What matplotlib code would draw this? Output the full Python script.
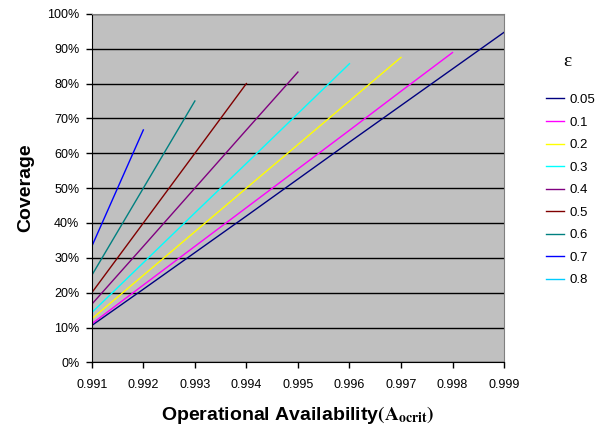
import numpy as np
import matplotlib
matplotlib.use("Agg")
import matplotlib.pyplot as plt
from matplotlib.ticker import FuncFormatter

plt.rcParams['font.family'] = ['Liberation Sans', 'DejaVu Sans']
plt.rcParams['mathtext.fontset'] = 'stix'

# availability grid (x axis)
avail = [0.991, 0.992, 0.993, 0.994, 0.995, 0.996, 0.997, 0.998, 0.999]

# coverage (%) per epsilon, each series starts at 0.991
eps_labels = ["0.05", "0.1", "0.2", "0.3", "0.4", "0.5", "0.6", "0.7", "0.8"]
cov_005 = [10.6, 21.0, 31.5, 42.0, 52.6, 63.2, 73.7, 84.2, 94.7]
cov_01 = [11.1, 22.2, 33.3, 44.4, 55.5, 66.6, 77.8, 88.9]
cov_02 = [12.5, 25.0, 37.5, 50.0, 62.5, 75.0, 87.5]
cov_03 = [14.3, 28.6, 42.9, 57.1, 71.4, 85.7]
cov_04 = [16.7, 33.3, 50.0, 66.7, 83.3]
cov_05 = [20.0, 40.0, 60.0, 80.0]
cov_06 = [25.0, 50.0, 75.0]
cov_07 = [33.3, 66.7]
cov_08 = [50.0]

series = [cov_005, cov_01, cov_02, cov_03, cov_04, cov_05, cov_06, cov_07, cov_08]
colors = ["#000080", "#FF00FF", "#FFFF00", "#00FFFF", "#800080",
          "#800000", "#008080", "#0000FF", "#00CCFF"]

fig = plt.figure(figsize=(6.08, 4.33), dpi=100)
ax = fig.add_axes([0.151, 0.163, 0.678, 0.805])
ax.set_facecolor("#C0C0C0")

for vals, lab, col in zip(series, eps_labels, colors):
    ax.plot(avail[:len(vals)], vals, color=col, lw=1, label=lab)

ax.set_xlim(0.991, 0.999)
ax.set_ylim(0, 100)
ax.set_xticks(avail)
ax.set_xticklabels(["%.3f" % a for a in avail])
ax.set_yticks(np.arange(0, 101, 10))
ax.yaxis.set_major_formatter(FuncFormatter(lambda v, p: "%d%%" % v))
ax.grid(axis="y", color="black", lw=1)
ax.set_axisbelow(True)
ax.tick_params(labelsize=9, length=4, width=1, direction="out", colors="black")
ax.tick_params(axis="x", pad=8)
ax.tick_params(axis="y", pad=5)

for s in ["top", "right"]:
    ax.spines[s].set_color("#808080")
for s in ["left", "bottom"]:
    ax.spines[s].set_color("black")

ax.set_ylabel("Coverage", fontsize=14, fontweight="bold", labelpad=9)
ax.set_xlabel(r"Operational Availability$\mathbf{(A_{ocrit})}$",
              fontsize=14, fontweight="bold", labelpad=9)

fig.text(567 / 608, 1 - 62 / 433, "ε", family="Liberation Serif",
         fontsize=14, ha="center", va="center")
ax.legend(loc="upper left", bbox_to_anchor=(534 / 608, 1 - 82 / 433),
          bbox_transform=fig.transFigure, frameon=False, fontsize=9.5,
          handlelength=1.4, handletextpad=0.4, labelspacing=0.78)

fig.savefig("out.png", dpi=100)
